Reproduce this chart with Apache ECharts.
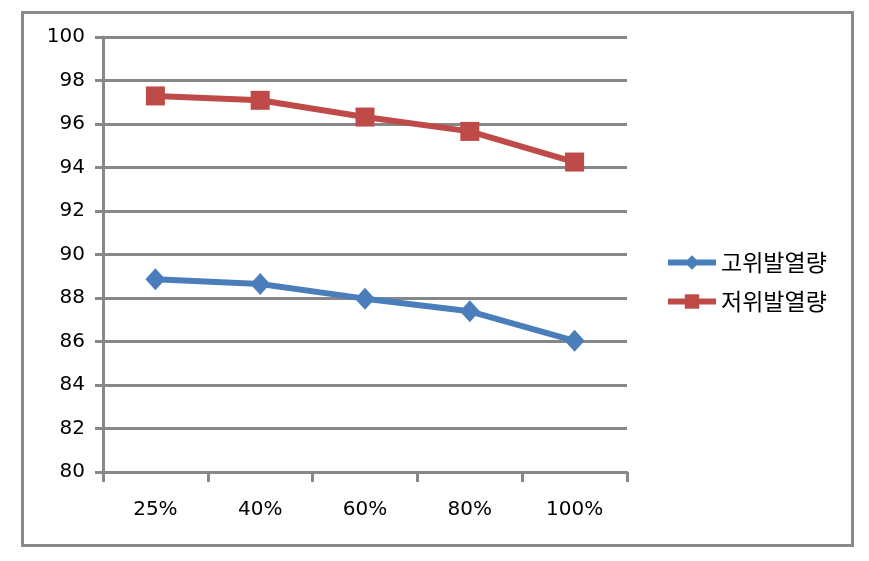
<!DOCTYPE html>
<html>
<head>
<meta charset="utf-8">
<script src="https://cdn.jsdelivr.net/npm/echarts@6/dist/echarts.min.js"></script>
<style>
html,body{margin:0;padding:0;background:#fff;}
#chart{width:869px;height:561px;}
</style>
</head>
<body>
<div id="chart"></div>
<script>
const categories = ['25%', '40%', '60%', '80%', '100%'];
const highHeat = [88.86, 88.64, 87.97, 87.39, 86.03];
const lowHeat = [97.29, 97.09, 96.32, 95.66, 94.25];
const seriesNames = ['고위발열량', '저위발열량'];

const gridColor = '#878787';
const chart = echarts.init(document.getElementById('chart'), null, {renderer: 'canvas'});
chart.setOption({
  backgroundColor: '#ffffff',
  animation: false,
  graphic: [{
    type: 'rect',
    shape: {x: 22.5, y: 12.5, width: 830, height: 533},
    style: {fill: 'none', stroke: '#8a8a8a', lineWidth: 3},
    z: 0
  }],
  grid: {left: 103, top: 37, right: 242, bottom: 89, containLabel: false},
  legend: {
    orient: 'vertical',
    left: 660,
    top: 246,
    itemWidth: 48,
    itemHeight: 18,
    itemGap: 16,
    itemTextGap: 4,
    lineStyle: {width: 6},
    textStyle: {fontFamily: '"Noto Sans CJK KR", sans-serif', fontSize: 23, color: '#000'},
    data: seriesNames
  },
  xAxis: {
    type: 'category',
    data: categories,
    boundaryGap: true,
    axisLine: {show: true, lineStyle: {color: gridColor, width: 3}},
    axisTick: {show: true, length: 10, lineStyle: {color: gridColor, width: 3}},
    axisLabel: {margin: 28, fontFamily: '"DejaVu Sans", sans-serif', fontSize: 20, color: '#000'}
  },
  yAxis: {
    type: 'value',
    min: 80, max: 100, interval: 2,
    axisLine: {show: true, lineStyle: {color: gridColor, width: 3}},
    axisTick: {show: true, length: 8, lineStyle: {color: gridColor, width: 3}},
    splitLine: {show: true, lineStyle: {color: gridColor, width: 3}},
    axisLabel: {margin: 18, fontFamily: '"DejaVu Sans", sans-serif', fontSize: 20, color: '#000'}
  },
  series: [
    {
      name: seriesNames[0], type: 'line', data: highHeat,
      symbol: 'diamond', symbolSize: [20, 22],
      lineStyle: {color: '#4a7ebb', width: 6},
      itemStyle: {color: '#4a7ebb'},
      z: 3
    },
    {
      name: seriesNames[1], type: 'line', data: lowHeat,
      symbol: 'rect', symbolSize: 19,
      lineStyle: {color: '#be4b48', width: 6},
      itemStyle: {color: '#be4b48'},
      z: 3
    }
  ]
});
</script>
</body>
</html>
